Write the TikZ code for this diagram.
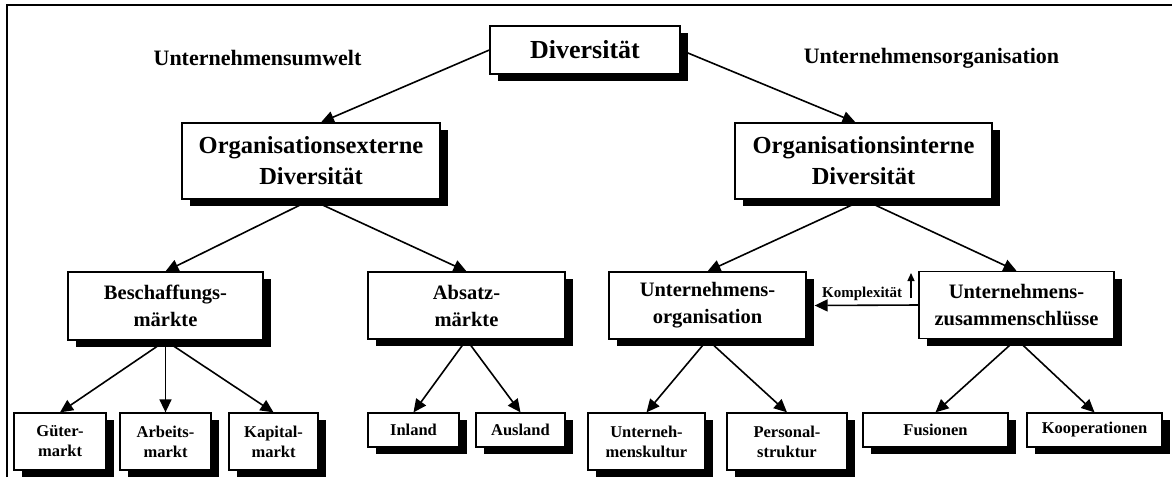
\documentclass[tikz,border=0pt]{standalone}
\usepackage{fontspec}
\setmainfont{Liberation Serif}
\usetikzlibrary{arrows.meta,shadows,calc}
\tikzset{
  box/.style={draw=black, line width=1.3pt, fill=white, align=center, inner sep=0pt,
    drop shadow={shadow xshift=8pt, shadow yshift=-7pt, fill=black, opacity=1}},
  toptext/.style={font=\bfseries\fontsize{26}{31}\selectfont},
  bigtext/.style={font=\bfseries\fontsize{24.5}{31}\selectfont},
  midtext/.style={font=\bfseries\fontsize{20.5}{27}\selectfont},
  smalltext/.style={font=\bfseries\fontsize{16.5}{20}\selectfont},
  headtext/.style={font=\bfseries\fontsize{22}{26}\selectfont},
  arr/.style={-{Triangle[length=13pt,width=12pt]}, line width=1.6pt},
  frameline/.style={line width=1.5pt}
}
\begin{document}
\begin{tikzpicture}[x=1pt,y=-1pt]
\useasboundingbox (0,0) rectangle (1172,477);
% frame
\coordinate (fTL) at (7,5);
\coordinate (fTR) at (1172,5);
\coordinate (fBL) at (7,477);
\draw[frameline] (fBL) -- (fTL) -- (fTR);

% headings
\node[headtext] (hleft) at (257.5,58) {Unternehmensumwelt};
\node[headtext] (hright) at (931.5,58) {Unternehmensorganisation};

% level 0
\node[box, toptext, minimum width=190pt, minimum height=48pt] (div) at (585,50) {Diversität};
% level 1
\node[box, bigtext, minimum width=258pt, minimum height=76pt] (ext) at (311,161) {Organisationsexterne\\Diversität};
\node[box, bigtext, minimum width=257pt, minimum height=76pt] (int) at (863.5,161) {Organisationsinterne\\Diversität};
% level 2
\node[box, midtext, minimum width=195pt, minimum height=68pt] (besch) at (165.5,306) {Beschaffungs-\\märkte};
\node[box, midtext, minimum width=197pt, minimum height=67pt] (absatz) at (466.5,305.5) {Absatz-\\märkte};
\node[box, midtext, minimum width=197pt, minimum height=67pt] (uorg) at (707.5,305.5) {Unternehmens-\\organisation};
\node[box, midtext, minimum width=195pt, minimum height=67pt] (uzus) at (1016.5,305) {Unternehmens-\\zusammenschlüsse};
% level 3
\node[box, smalltext, minimum width=92pt, minimum height=57pt] (gueter) at (60,441.5) {Güter-\\markt};
\node[box, smalltext, minimum width=91pt, minimum height=57pt] (arbeit) at (165.5,441.5) {Arbeits-\\markt};
\node[box, smalltext, minimum width=89pt, minimum height=57pt] (kapital) at (273.5,441.5) {Kapital-\\markt};
\node[box, smalltext, minimum width=91pt, minimum height=34pt] (inland) at (413.5,430) {Inland};
\node[box, smalltext, minimum width=89pt, minimum height=34pt] (ausland) at (520.5,430) {Ausland};
\node[box, smalltext, minimum width=117pt, minimum height=57pt] (ukultur) at (646.5,441.5) {Unterneh-\\menskultur};
\node[box, smalltext, minimum width=120pt, minimum height=57pt] (personal) at (787,441.5) {Personal-\\struktur};
\node[box, smalltext, minimum width=145pt, minimum height=34pt] (fusionen) at (935.5,430) {Fusionen};
\node[box, smalltext, minimum width=135pt, minimum height=34pt] (koop) at (1094.5,430) {Kooperationen};

% connectors
\draw[arr] (div.west) -- ($(ext.north)+(10,0)$);
\draw[arr] (div.east) -- ($(int.north)+(-8,0)$);
\draw[arr] (ext.south) -- (besch.north);
\draw[arr] (ext.south) -- (absatz.north);
\draw[arr] (int.south) -- (uorg.north);
\draw[arr] (int.south) -- (uzus.north);
\draw[arr] (besch.south) -- (gueter.north);
\draw[arr] (besch.south) -- (arbeit.north);
\draw[arr] (besch.south) -- (kapital.north);
\draw[arr] (absatz.south) -- (inland.north);
\draw[arr] (absatz.south) -- (ausland.north);
\draw[arr] (uorg.south) -- (ukultur.north);
\draw[arr] (uorg.south) -- (personal.north);
\draw[arr] (uzus.south) -- (fusionen.north);
\draw[arr] (uzus.south) -- (koop.north);
\draw[arr] (uzus.west) -- ($(uorg.east)+(8,0)$);

% Komplexitaet label with small up arrow
\node[font=\bfseries\fontsize{15}{17}\selectfont, anchor=base west, inner sep=0pt] (komp) at (822,297) {Komplexität};
\coordinate (kup0) at (911,298);
\coordinate (kup1) at (911,273);
\draw[-{Triangle[length=8pt,width=7pt]}, line width=1.3pt] (kup0) -- (kup1);
\end{tikzpicture}
\end{document}
